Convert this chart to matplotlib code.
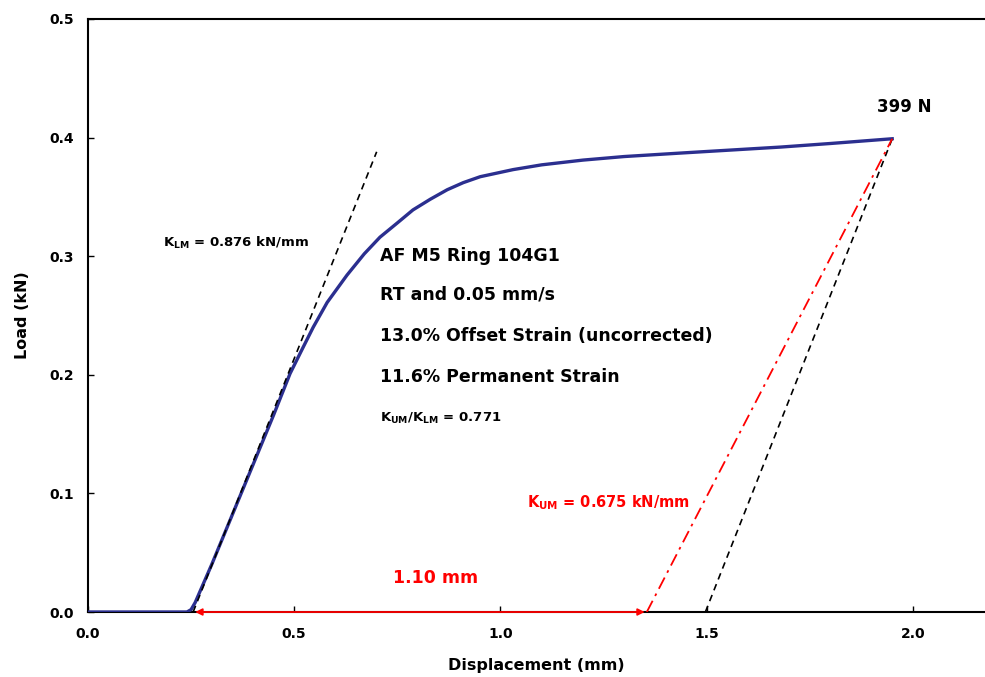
import matplotlib
matplotlib.use("Agg")
import matplotlib.pyplot as plt

plt.rcParams['font.family'] = ['DejaVu Sans']
plt.rcParams['font.weight'] = 'bold'
plt.rcParams['mathtext.fontset'] = 'dejavusans'
plt.rcParams['mathtext.default'] = 'bf'

# load-displacement curve
disp = [0.0, 0.24, 0.25, 0.26, 0.27, 0.30, 0.35, 0.40, 0.45, 0.49, 0.52, 0.546, 0.58,
        0.628, 0.67, 0.708, 0.75, 0.788, 0.83, 0.871, 0.91, 0.951, 1.031, 1.10, 1.20,
        1.30, 1.44, 1.56, 1.68, 1.80, 1.95]
load = [0.0, 0.0, 0.002, 0.008, 0.016, 0.040, 0.082, 0.124, 0.166, 0.201, 0.222, 0.240, 0.261,
        0.284, 0.302, 0.316, 0.328, 0.339, 0.348, 0.356, 0.362, 0.367, 0.373, 0.377, 0.381,
        0.384, 0.387, 0.3895, 0.392, 0.395, 0.399]

# stiffness lines
klm_x = [0.255, 0.70]
klm_y = [0.0, 0.388]
unload_x = [1.497, 1.95]
unload_y = [0.0, 0.399]
kum_x = [1.355, 1.95]
kum_y = [0.0, 0.399]

# permanent displacement arrow
perm_start, perm_end = 0.26, 1.35

x_ticks = [0.0, 0.5, 1.0, 1.5, 2.0]
y_ticks = [0.0, 0.1, 0.2, 0.3, 0.4, 0.5]

fig = plt.figure(figsize=(9.85, 6.77), dpi=100)
ax = fig.add_axes([0.0893, 0.096, 0.9107, 0.876])

ax.plot(disp, load, color='#2b2f8f', lw=2.4, zorder=3)
ax.plot(klm_x, klm_y, color='black', lw=1.2, ls=(0, (4, 3)), zorder=4)
ax.plot(unload_x, unload_y, color='black', lw=1.2, ls=(0, (4, 3)), zorder=4)
ax.plot(kum_x, kum_y, color='red', lw=1.3, ls=(0, (7, 3, 1.5, 3)), zorder=4)

ax.annotate('', xy=(perm_start, 0.0), xytext=(perm_end, 0.0),
            arrowprops=dict(arrowstyle='<|-|>', color='red', lw=1.3,
                            mutation_scale=10, shrinkA=0, shrinkB=0),
            zorder=5, annotation_clip=False)

ax.text(0.842, 0.029, '1.10 mm', color='red', fontsize=12.5, ha='center', va='center')
ax.text(1.913, 0.426, '399 N', fontsize=12, ha='left', va='center')
ax.text(0.182, 0.311, r'K$_{\mathbf{LM}}$ = 0.876 kN/mm', fontsize=9.5, ha='left', va='center')
ax.text(1.065, 0.092, r'K$_{\mathbf{UM}}$ = 0.675 kN/mm', color='red', fontsize=10.5,
        ha='left', va='center')

info_lines = ['AF M5 Ring 104G1', 'RT and 0.05 mm/s',
              '13.0% Offset Strain (uncorrected)', '11.6% Permanent Strain']
info_y = [0.300, 0.268, 0.233, 0.198]
for s, yy in zip(info_lines, info_y):
    ax.text(0.708, yy, s, fontsize=12.5, ha='left', va='center')
ax.text(0.708, 0.163, r'K$_{\mathbf{UM}}$/K$_{\mathbf{LM}}$ = 0.771', fontsize=9.5,
        ha='left', va='center')

ax.set_xlim(0, 2.175)
ax.set_ylim(0, 0.5)
ax.set_xticks(x_ticks)
ax.set_yticks(y_ticks)
ax.set_xticklabels([f'{v:.1f}' for v in x_ticks])
ax.set_yticklabels([f'{v:.1f}' for v in y_ticks])
ax.tick_params(direction='in', length=4, width=1, labelsize=10)
ax.tick_params(axis='x', pad=11)
ax.tick_params(axis='y', pad=10)
for lab in ax.get_xticklabels() + ax.get_yticklabels():
    lab.set_fontweight('bold')
ax.spines['right'].set_visible(False)
for sp in ['left', 'top', 'bottom']:
    ax.spines[sp].set_linewidth(1.5)

ax.set_xlabel('Displacement (mm)', fontsize=11.5, fontweight='bold', labelpad=12)
ax.set_ylabel('Load (kN)', fontsize=11.5, fontweight='bold', labelpad=14)

fig.savefig('out.png', dpi=100)
